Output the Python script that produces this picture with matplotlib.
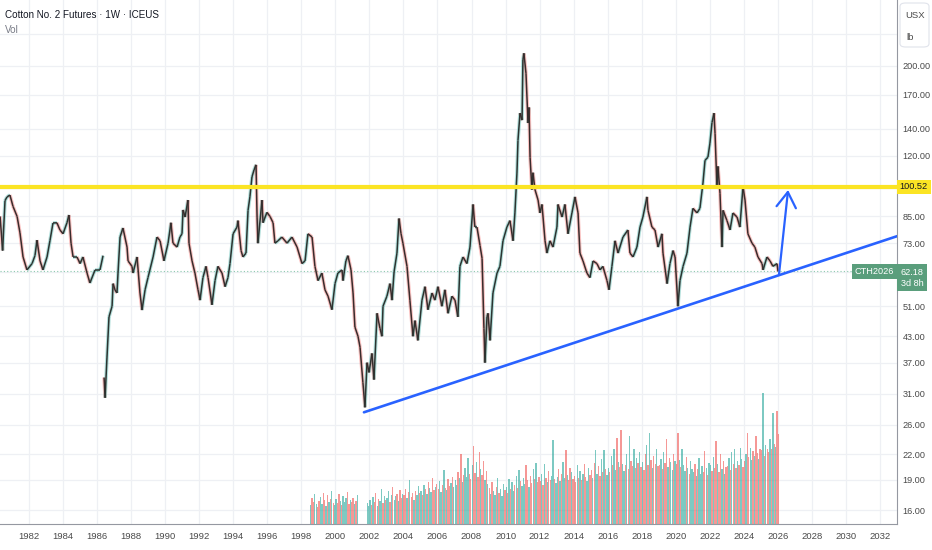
import numpy as np
import matplotlib
matplotlib.use("Agg")
import matplotlib.pyplot as plt
from matplotlib.collections import LineCollection
from matplotlib.transforms import blended_transform_factory
from matplotlib.patches import FancyBboxPatch

plt.rcParams['font.family'] = ['Liberation Sans', 'DejaVu Sans']

# ---------------- data ----------------
price_dates = [
    1980.30, 1980.45, 1980.59, 1980.71, 1980.88, 1981.06, 1981.30, 1981.47, 1981.65, 1981.88,
    1982.18, 1982.35, 1982.47, 1982.65, 1982.82, 1983.06, 1983.23, 1983.41, 1983.64, 1983.82,
    1984.00, 1984.23, 1984.35, 1984.47, 1984.59, 1984.82, 1985.00, 1985.17, 1985.41, 1985.58,
    1985.88, 1986.17, 1986.35, 1986.38, 1986.41, 1986.47, 1986.58, 1986.70, 1986.88, 1986.94,
    1987.05, 1987.17, 1987.23, 1987.35, 1987.52, 1987.76, 1987.82, 1988.05, 1988.11, 1988.35,
    1988.52, 1988.64, 1988.82, 1988.99, 1989.29, 1989.52, 1989.70, 1989.93, 1990.17, 1990.34,
    1990.46, 1990.70, 1990.87, 1990.99, 1991.05, 1991.17, 1991.34, 1991.40, 1991.58, 1991.75,
    1991.93, 1992.05, 1992.22, 1992.40, 1992.52, 1992.75, 1992.93, 1993.10, 1993.34, 1993.52,
    1993.69, 1993.81, 1993.99, 1994.22, 1994.28, 1994.46, 1994.57, 1994.75, 1994.87, 1994.98,
    1995.10, 1995.22, 1995.34, 1995.40, 1995.45, 1995.69, 1995.75, 1995.98, 1996.16, 1996.34,
    1996.45, 1996.63, 1996.86, 1997.16, 1997.45, 1997.75, 1998.04, 1998.22, 1998.39, 1998.63,
    1998.80, 1998.98, 1999.21, 1999.39, 1999.57, 1999.80, 1999.98, 2000.15, 2000.39, 2000.45,
    2000.62, 2000.74, 2000.92, 2001.04, 2001.15, 2001.33, 2001.45, 2001.62, 2001.74, 2001.86,
    2001.98, 2002.15, 2002.27, 2002.45, 2002.62, 2002.74, 2002.80, 2003.03, 2003.21, 2003.33,
    2003.45, 2003.62, 2003.74, 2003.86, 2003.97, 2004.21, 2004.38, 2004.56, 2004.68, 2004.85,
    2005.09, 2005.27, 2005.44, 2005.68, 2005.85, 2006.03, 2006.26, 2006.44, 2006.62, 2006.85,
    2007.03, 2007.20, 2007.32, 2007.50, 2007.73, 2007.91, 2008.09, 2008.20, 2008.32, 2008.50,
    2008.62, 2008.73, 2008.79, 2008.91, 2008.97, 2009.09, 2009.26, 2009.50, 2009.67, 2009.85,
    2010.08, 2010.26, 2010.44, 2010.55, 2010.67, 2010.73, 2010.85, 2010.97, 2011.02, 2011.08,
    2011.20, 2011.32, 2011.38, 2011.44, 2011.55, 2011.61, 2011.73, 2011.91, 2012.02, 2012.14,
    2012.32, 2012.43, 2012.61, 2012.79, 2013.02, 2013.08, 2013.32, 2013.49, 2013.67, 2013.90,
    2014.08, 2014.26, 2014.37, 2014.55, 2014.78, 2014.96, 2015.14, 2015.37, 2015.55, 2015.72,
    2015.96, 2016.08, 2016.25, 2016.43, 2016.61, 2016.90, 2017.19, 2017.31, 2017.49, 2017.72,
    2017.90, 2018.07, 2018.31, 2018.37, 2018.60, 2018.78, 2018.96, 2019.19, 2019.25, 2019.49,
    2019.66, 2019.84, 2019.96, 2020.13, 2020.25, 2020.43, 2020.66, 2020.84, 2021.01, 2021.25,
    2021.42, 2021.60, 2021.72, 2021.89, 2022.01, 2022.13, 2022.25, 2022.31, 2022.42, 2022.48,
    2022.60, 2022.72, 2022.78, 2023.01, 2023.19, 2023.36, 2023.60, 2023.77, 2023.95, 2024.07,
    2024.24, 2024.48, 2024.65, 2024.83, 2025.07, 2025.13, 2025.36, 2025.54, 2025.71, 2025.95,
    2026.01,
]
price_values = [
    85.0, 70.0, 93.0, 95.0, 96.0, 90.0, 85.0, 77.4, 67.5, 62.7,
    65.0, 68.0, 74.3, 66.0, 62.7, 67.5, 74.0, 81.9, 82.0, 78.7,
    77.0, 82.0, 85.7, 73.0, 67.5, 67.5, 65.0, 67.5, 61.6, 58.2,
    62.7, 62.7, 68.0, np.nan, 34.0, 30.3, 38.0, 48.0, 51.0, 58.0,
    56.0, 55.0, 61.6, 75.6, 79.6, 71.4, 66.0, 64.0, 61.6, 67.5,
    55.0, 49.9, 56.0, 60.0, 67.5, 75.6, 74.0, 66.0, 73.0, 82.0,
    73.0, 71.4, 75.6, 77.0, 88.2, 84.7, 93.3, 73.0, 66.0, 61.6,
    56.0, 52.8, 60.0, 64.0, 60.0, 51.4, 59.0, 64.0, 61.6, 57.0,
    60.0, 65.0, 77.0, 80.0, 83.0, 70.0, 67.5, 69.0, 88.0, 95.0,
    106.4, 110.7, 114.0, 84.7, 73.0, 93.3, 82.0, 87.0, 85.0, 82.0,
    73.0, 74.0, 75.6, 73.0, 75.6, 71.4, 65.0, 66.0, 77.0, 75.6,
    64.0, 59.0, 61.6, 56.0, 54.0, 50.0, 58.0, 61.6, 62.7, 59.0,
    66.0, 68.0, 62.7, 55.0, 45.3, 43.0, 40.4, 33.0, 28.7, 37.0,
    35.0, 39.0, 33.6, 49.0, 45.0, 43.0, 51.0, 54.0, 58.0, 52.8,
    62.0, 69.0, 84.0, 77.0, 73.0, 64.0, 52.8, 43.0, 47.0, 42.0,
    52.8, 57.0, 50.0, 55.0, 52.8, 57.0, 51.0, 56.0, 49.0, 54.0,
    52.8, 48.0, 64.0, 67.5, 65.0, 71.4, 91.0, 80.0, 80.0, 72.0,
    67.0, 45.0, 37.0, 48.0, 49.0, 42.0, 55.0, 61.6, 64.0, 74.0,
    80.0, 83.0, 74.0, 86.7, 108.8, 131.0, 153.0, 147.0, 207.0, 215.0,
    192.0, 144.6, 158.0, 119.0, 99.0, 109.0, 99.0, 93.3, 86.7, 91.0,
    74.0, 69.0, 74.0, 71.4, 80.0, 91.0, 84.7, 91.0, 77.0, 86.7,
    95.0, 86.7, 69.0, 66.0, 61.6, 60.0, 66.0, 65.0, 62.7, 64.0,
    59.0, 56.0, 64.0, 74.0, 69.0, 75.6, 78.7, 69.0, 67.5, 71.4,
    80.0, 84.7, 95.0, 88.0, 80.0, 78.7, 71.4, 77.0, 69.0, 58.0,
    65.0, 70.0, 67.5, 51.0, 59.0, 64.0, 69.0, 80.0, 89.0, 86.7,
    89.0, 102.8, 117.0, 119.0, 129.0, 145.0, 153.0, 136.0, 100.6, 113.0,
    97.0, 71.4, 88.0, 83.0, 78.7, 86.7, 84.7, 80.0, 100.6, 93.3,
    77.0, 73.0, 71.4, 67.5, 65.0, 62.7, 67.5, 66.0, 64.0, 65.0,
    62.18,
]

# monthly volume (thousand contracts), first month = Jul 1998
vol_start_year = 1998.5
vol_values = [
    38, 52, 44, 60, 41, 35,                                   # 1998
    46, 55, 40, 62, 48, 37, 58, 44, 51, 66, 42, 39,           # 1999
    50, 43, 61, 47, 38, 56, 45, 52, 64, 41, 49, 44,           # 2000
    53, 40, 47, 58, 0, 0, 0, 0, 0, 0, 42, 36,                 # 2001
    48, 39, 55, 44, 62, 37, 51, 46, 70, 43, 57, 49,           # 2002
    52, 66, 45, 58, 74, 49, 56, 61, 47, 68, 53, 60,           # 2003
    58, 71, 52, 64, 88, 55, 62, 49, 67, 59, 76, 63,           # 2004
    66, 58, 79, 70, 61, 84, 73, 65, 92, 68, 75, 80,           # 2005
    71, 86, 64, 78, 108, 72, 69, 90, 76, 83, 95, 74,          # 2006
    88, 79, 104, 92, 140, 85, 98, 112, 94, 132, 101, 90,      # 2007
    118, 156, 102, 124, 95, 144, 110, 98, 126, 88, 106, 80,   # 2008
    72, 60, 85, 66, 58, 74, 92, 63, 70, 57, 80, 68,           # 2009
    74, 62, 90, 70, 84, 66, 78, 96, 72, 108, 86, 77,          # 2010
    92, 80, 118, 88, 74, 96, 82, 110, 90, 122, 84, 94,        # 2011
    86, 100, 78, 120, 92, 84, 106, 88, 96, 168, 90, 82,       # 2012
    94, 110, 86, 100, 124, 92, 148, 98, 88, 112, 104, 90,     # 2013
    96, 84, 118, 92, 106, 88, 100, 120, 94, 86, 112, 98,      # 2014
    108, 92, 122, 148, 100, 116, 96, 130, 104, 148, 110, 98,  # 2015
    112, 104, 136, 118, 150, 108, 172, 124, 114, 188, 120, 106,  # 2016
    118, 140, 110, 176, 126, 116, 150, 112, 132, 122, 144, 114,  # 2017
    124, 108, 140, 158, 118, 182, 128, 112, 136, 120, 150, 116,  # 2018
    118, 130, 110, 144, 122, 170, 114, 132, 124, 108, 140, 126,  # 2019
    120, 182, 128, 114, 150, 118, 106, 134, 112, 100, 126, 110,  # 2020
    104, 120, 96, 110, 132, 100, 116, 104, 146, 112, 98, 122,    # 2021
    118, 106, 134, 112, 166, 120, 104, 140, 110, 126, 100, 114,  # 2022
    116, 132, 108, 144, 120, 150, 112, 126, 118, 152, 130, 114,  # 2023
    126, 140, 182, 134, 152, 128, 146, 136, 176, 142, 130, 150,  # 2024
    148, 262, 136, 158, 150, 144, 170, 150, 222, 160, 154, 226,  # 2025
    180,                                                         # 2026
]
# up (g) / down (r) month for each volume bar
vol_dirs = (
    "grrggr"
    "rggrrgrgrgrg"  # 1999
    "grrgrgggrrgr"  # 2000
    "rgrgrgrgrggg"  # 2001
    "grgrrgrggrgr"  # 2002
    "ggrgrggrgrrg"  # 2003
    "rrgrgrrgrggr"  # 2004
    "grgrgrggrrgr"  # 2005
    "rggrgrgrrgrg"  # 2006
    "ggrgrgrgggrr"  # 2007
    "grrgrrgrrgrg"  # 2008
    "rgrggrgrgggr"  # 2009
    "grgrggrgrgrg"  # 2010
    "ggrrgrrgrgrr"  # 2011
    "rgrgrgrrggrg"  # 2012
    "grgrggrgrrgr"  # 2013
    "rrgrgrgrrggr"  # 2014
    "rgrggrrgrgrg"  # 2015
    "grgrggrgrrgg"  # 2016
    "rgrgrrgrgrgr"  # 2017
    "grrgrgrgrrgr"  # 2018
    "rgrgrrgrggrg"  # 2019
    "rrgrgggrgrgg"  # 2020
    "grgrgggrrgrg"  # 2021
    "grgrrgrrgrgr"  # 2022
    "rgrgrgrgrggr"  # 2023
    "rgrrggrgrrgr"  # 2024
    "rgrgrrgrgrgr"  # 2025
    "r"             # 2026
)

resistance_level = 100.52
last_price = 62.18
trend_start = (2001.68, 27.9)
trend_end = (2033.06, 76.1)
arrow_tail = (2026.07, 61.3)
arrow_head = (2026.60, 98.8)

year_ticks = list(range(1982, 2033, 2))
price_ticks = [200, 170, 140, 120, 85, 73, 51, 43, 37, 31, 26, 22, 19, 16]
grid_prices = [240, 200, 170, 140, 120, 100, 85, 73, 62, 51, 43, 37, 31, 26, 22, 19, 16]

# ---------------- figure ----------------
W, H = 932, 550
fig = plt.figure(figsize=(W / 100, H / 100), dpi=100, facecolor='white')
ax = fig.add_axes([0, 26 / H, 897 / W, 524 / H])
ax.set_yscale('log')
ax.set_xlim(1980.296, 2033.0)
ax.set_ylim(14.78, 291.1)

grid_c = '#eef0f4'
for g in grid_prices:
    ax.axhline(g, color=grid_c, lw=0.9, zorder=0)
for yt in year_ticks:
    ax.axvline(yt, color=grid_c, lw=0.9, zorder=0)

# volume pane (twin axis, bottom overlay)
axv = ax.twinx()
axv.set_ylim(0, 1048)
axv.set_xlim(ax.get_xlim())
axv.axis('off')
vol_x = vol_start_year + (np.arange(len(vol_values)) + 0.5) / 12.0
vcols = ['#26a69a' if c == 'g' else '#ef5350' for c in vol_dirs[:len(vol_values)]]
vcols += ['#ef5350'] * (len(vol_values) - len(vcols))
axv.bar(vol_x, vol_values, width=0.95 / 12, color=vcols, alpha=0.6, linewidth=0, zorder=1)

# price trace
segs, cols_halo, cols_core = [], [], []
for i in range(1, len(price_dates)):
    a, b = price_values[i - 1], price_values[i]
    if np.isnan(a) or np.isnan(b):
        continue
    segs.append([(price_dates[i - 1], a), (price_dates[i], b)])
    up = b >= a
    cols_halo.append('#26a69a' if up else '#ef5350')
    cols_core.append('#2b3431' if up else '#3a2c2c')
ax.add_collection(LineCollection(segs, colors=cols_halo, linewidths=2.6, alpha=0.35, zorder=3))
ax.add_collection(LineCollection(segs, colors=cols_core, linewidths=1.1, zorder=4))

# last price dotted line
ax.axhline(last_price, color='#8cc9ae', lw=0.8, ls=(0, (1, 2)), zorder=2)

# resistance line
ax.axhline(resistance_level, color='#fbe424', lw=3.0, zorder=5)

# trend line
ax.plot([trend_start[0], trend_end[0]], [trend_start[1], trend_end[1]],
        color='#2962ff', lw=1.9, zorder=6, solid_capstyle='round', clip_on=True)

# arrow
ax.annotate('', xy=arrow_head, xytext=arrow_tail,
            arrowprops=dict(arrowstyle='->,head_length=1.1,head_width=0.7',
                            color='#2962ff', lw=1.6, shrinkA=0, shrinkB=0),
            zorder=7)

# axes styling
for s in ['top', 'left']:
    ax.spines[s].set_visible(False)
ax.spines['right'].set_color('#9598a1')
ax.spines['bottom'].set_color('#9598a1')
ax.spines['right'].set_linewidth(0.8)
ax.spines['bottom'].set_linewidth(0.8)
ax.yaxis.tick_right()
ax.set_yticks(price_ticks)
ax.set_yticklabels(['%.2f' % p for p in price_ticks])
ax.yaxis.set_minor_locator(matplotlib.ticker.NullLocator())
ax.set_xticks(year_ticks)
ax.set_xticklabels([str(y) for y in year_ticks])
ax.tick_params(axis='y', length=0, pad=4, labelsize=6.6, labelcolor='#4a4a4a')
ax.tick_params(axis='x', length=0, pad=6, labelsize=6.8, labelcolor='#4a4a4a')

# right axis labels
tr = blended_transform_factory(ax.transAxes, ax.transData)
ax.text(1.003, resistance_level, '100.52', transform=tr, ha='left', va='center',
        fontsize=6.6, color='#131722', zorder=10, clip_on=False,
        bbox=dict(boxstyle='square,pad=0.3', fc='#fbe424', ec='none'))
ax.text(1.004, last_price * 1.022, '62.18\n3d 8h', transform=tr, ha='left', va='top',
        fontsize=6.6, color='white', zorder=10, clip_on=False, linespacing=1.3,
        bbox=dict(boxstyle='square,pad=0.35', fc='#5a9e7c', ec='none'))
ax.text(0.997, last_price, 'CTH2026', transform=tr, ha='right', va='center',
        fontsize=6.6, color='white', zorder=10, clip_on=False,
        bbox=dict(boxstyle='square,pad=0.3', fc='#5a9e7c', ec='none'))

# unit box
box = FancyBboxPatch((900 / W, 1 - 47 / H), 29 / W, 44 / H, transform=fig.transFigure,
                     boxstyle='round,pad=0,rounding_size=0.006', fc='white', ec='#e0e3eb', lw=0.8)
fig.patches.append(box)
fig.text(905 / W, 1 - 15 / H, 'USX', fontsize=6.8, color='#4a4a4a', va='center', ha='left')
fig.text(906 / W, 1 - 37 / H, 'lb', fontsize=6.8, color='#4a4a4a', va='center', ha='left')

# title
fig.text(5 / W, 1 - 15 / H, 'Cotton No. 2 Futures · 1W · ICEUS', fontsize=7.1,
         color='#131722', va='center', ha='left')
fig.text(5 / W, 1 - 30 / H, 'Vol', fontsize=7.1, color='#787b86', va='center', ha='left')

fig.savefig('out.png', dpi=100, facecolor='white')
